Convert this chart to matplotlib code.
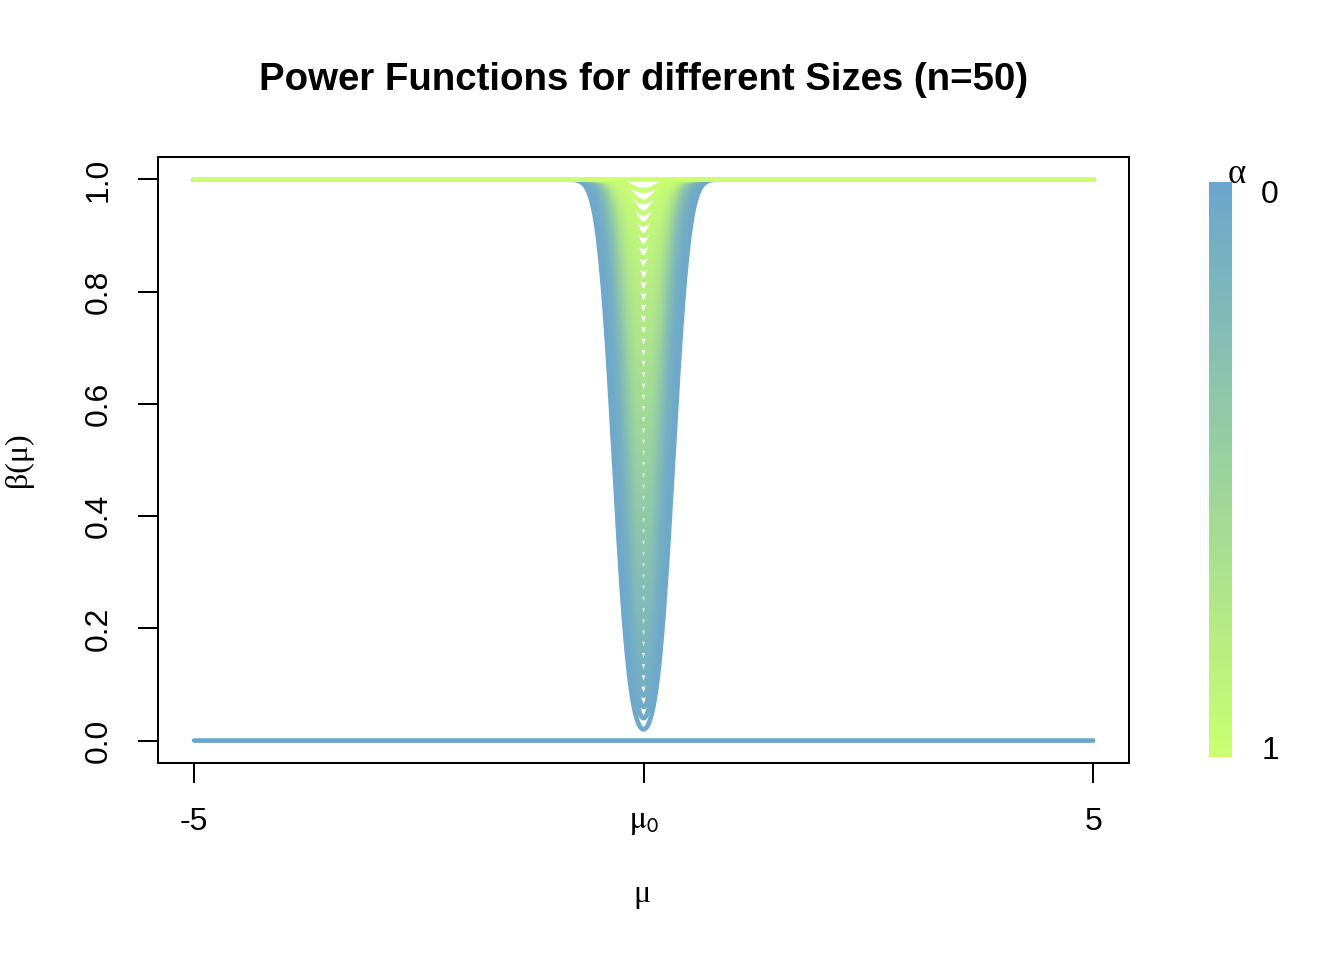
import math
import numpy as np
import matplotlib
matplotlib.use("Agg")
import matplotlib.pyplot as plt
from matplotlib.colors import LinearSegmentedColormap
from statistics import NormalDist

plt.rcParams['font.family'] = ['Liberation Sans', 'DejaVu Sans']
plt.rcParams['mathtext.fontset'] = 'stix'

# test setup: two-sided z-test, n = 50
n = 50
sigma = 1.0
mu0 = 0.0
mu_range = [-5, 5]

# sizes (alpha) of the drawn power functions
alpha_levels = [0.00, 0.02, 0.04, 0.06, 0.08, 0.10, 0.12, 0.14, 0.16, 0.18,
                0.20, 0.22, 0.24, 0.26, 0.28, 0.30, 0.32, 0.34, 0.36, 0.38,
                0.40, 0.42, 0.44, 0.46, 0.48, 0.50, 0.52, 0.54, 0.56, 0.58,
                0.60, 0.62, 0.64, 0.66, 0.68, 0.70, 0.72, 0.74, 0.76, 0.78,
                0.80, 0.82, 0.84, 0.86, 0.88, 0.90, 0.92, 0.94, 0.96, 0.98,
                1.00]

x_ticks = [-5, 0, 5]
x_ticklabels = ['-5', r'$\mathrm{μ}_{\mathsf{0}}$', '5']
y_ticks = [0.0, 0.2, 0.4, 0.6, 0.8, 1.0]

col_low = '#6CA6CD'   # alpha = 0
col_high = '#CAFF70'  # alpha = 1
cmap = LinearSegmentedColormap.from_list('alpha_ramp', [col_low, col_high])

phi = np.vectorize(lambda v: 0.5 * (1.0 + math.erf(v / math.sqrt(2.0))))


def power(mu, alpha):
    # power of the two-sided z-test of H0: mu = mu0
    if alpha <= 0:
        z = np.inf
    else:
        z = NormalDist().inv_cdf(1 - alpha / 2)
    d = math.sqrt(n) * (mu - mu0) / sigma
    return 1 - phi(z - d) + phi(-z - d)


mu = np.linspace(mu_range[0], mu_range[1], 2001)

fig = plt.figure(figsize=(7, 5), dpi=192)
ax = fig.add_axes([0.1176, 0.2052, 0.7225, 0.6313])

for a in alpha_levels:
    ax.plot(mu, power(mu, a), color=cmap(a), lw=1.75, solid_capstyle='round')

ax.set_xlim(-5.4, 5.4)
ax.set_ylim(-0.04, 1.04)
ax.set_xticks(x_ticks)
ax.set_xticklabels(x_ticklabels)
ax.set_yticks(y_ticks)
ax.set_yticklabels([f'{v:.1f}' for v in y_ticks], rotation=90, va='center')
ax.tick_params(axis='both', labelsize=12, length=7.5, width=0.75, pad=9)
for s in ax.spines.values():
    s.set_linewidth(0.75)

fig.text(0.4787, 0.917, 'Power Functions for different Sizes (n=50)',
         ha='center', va='center', fontsize=14.4, fontweight='bold')
fig.text(0.478, 0.068, 'μ', ha='center', va='center', fontsize=12,
         family=['Liberation Serif', 'DejaVu Serif'])
fig.text(0.0134, 0.521, 'β(μ)', ha='center', va='center', fontsize=12,
         rotation=90, family=['Liberation Serif', 'DejaVu Serif'])

# colour legend for alpha
cax = fig.add_axes([0.8996, 0.2115, 0.0164, 0.599])
grad = np.linspace(0, 1, 100).reshape(-1, 1)
cax.imshow(grad, cmap=cmap, aspect='auto', extent=[0, 1, 1, 0])
cax.set_axis_off()
fig.text(0.945, 0.797, '0', ha='center', va='center', fontsize=12)
fig.text(0.945, 0.218, '1', ha='center', va='center', fontsize=12)
fig.text(0.920, 0.818, 'α', ha='center', va='center', fontsize=13,
         family=['Liberation Serif', 'DejaVu Serif'])

fig.savefig('out.png', dpi=192)
